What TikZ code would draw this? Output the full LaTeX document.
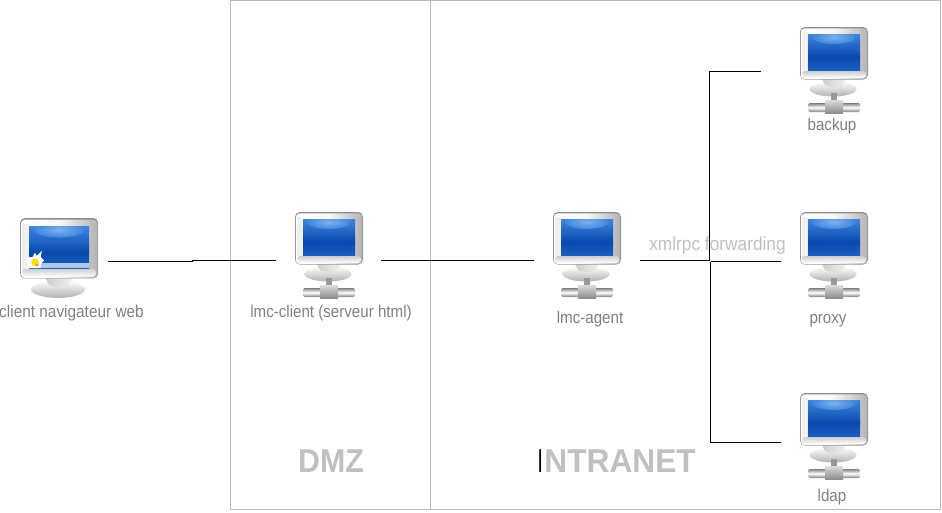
\documentclass[tikz,border=0pt]{standalone}
\usepackage{fontspec}
\setmainfont{Liberation Sans}
\definecolor{frameg}{HTML}{BBB7BB}
\definecolor{labelg}{HTML}{808080}
\definecolor{zoneg}{HTML}{C0C0C0}
\definecolor{scrtop}{HTML}{3C86DE}
\definecolor{scrmid}{HTML}{0A49AE}
\definecolor{scrlow}{HTML}{1A60C4}
\newcommand{\sx}[2]{\scalebox{#1}[1]{#2}}
\tikzset{
  x=1pt,y=-1pt,
  zone/.style={draw=frameg,line width=1pt},
  wire/.style={draw=black,line width=1pt},
  lbl/.style={inner sep=0pt,anchor=base,text=labelg,font=\fontsize{17}{19}\selectfont},
  zonetxt/.style={inner sep=0pt,text=zoneg,font=\fontsize{33}{36}\bfseries\selectfont},
  anchorbox/.style={inner sep=0pt,minimum width=68pt,minimum height=86pt},
  pics/monitor/.style={code={
    % stand
    \shade[top color=white,bottom color=white!70!black] (33,62) ellipse (23.5 and 7.5);
    \shade[left color=white!80!black,right color=white!95!black] (21,50) -- (47,50) -- (43,58) .. controls (38,60.5) and (30,60.5) .. (25,58) -- cycle;
    % body
    \fill[white!55!black,rounded corners=5pt] (0,0) rectangle (68,52.5);
    \shade[left color=white,right color=white!70!black,middle color=white!97!black,rounded corners=4pt] (0.8,1.4) rectangle (67.4,52);
    \shade[top color=white!80!black,bottom color=white,rounded corners=3pt] (2,44) rectangle (66,51);
    \fill[white!94!black] (2,5) rectangle (8,44);
    % screen
    \begin{scope}
      \clip (8,7) rectangle (60,43.5);
      \shade[top color=scrtop,bottom color=scrmid] (8,7) rectangle (60,30);
      \shade[top color=scrmid,bottom color=scrlow] (8,30) rectangle (60,43.5);
      \shade[inner color=scrtop!65!white,outer color=scrtop] (34,10) ellipse (22 and 7);
      \fill[scrmid,opacity=.35] (4,25) .. controls (20,33) and (48,33) .. (64,25) -- (64,33) -- (4,33) -- cycle;
    \end{scope}
  }},
  pics/network/.style={code={
    \fill[white!60!black] (31,66) rectangle (37,75);
    \shade[top color=white!50!black,bottom color=white!50!black,middle color=white,rounded corners=1.5pt] (8,76) rectangle (60,85);
    \shade[top color=white!85!black,bottom color=white!55!black] (25,73.5) rectangle (43,86);
  }},
  pics/spark/.style={code={
    \fill[scrlow!35!white] (8,39) rectangle (60,43.5);
    \fill[white] (8,34) -- (11,34) -- (13,30) -- (14.5,33) -- (19,28.5) -- (18,34) -- (21,37) -- (18,40) -- (18,43.5) -- (8,43.5) -- (5.5,38) -- cycle;
    \fill[yellow!85!orange] (13,38.5) circle (3.3);
    \fill[orange] (15,41) circle (1.3);
  }},
}
\newcommand{\tower}[3]{% name, x, y
  \node[anchorbox] (#1) at (#2+34,#3+43) {};
  \pic at (#2,#3) {monitor};
  \pic at (#2,#3) {network};
}
\begin{document}
\begin{tikzpicture}
\useasboundingbox (0,0) rectangle (942,512);
\fill[white] (0,0) rectangle (942,512);
% zones
\node[inner sep=0pt] (nw) at (230.5,0.5) {};
\node[inner sep=0pt] (se) at (940.5,509.5) {};
\node[inner sep=0pt] (mt) at (430.5,0.5) {};
\node[inner sep=0pt] (mb) at (430.5,509.5) {};
\draw[zone] (nw.center) rectangle (se.center);
\draw[zone] (mt.center) -- (mb.center);
% computers
\node[inner sep=0pt,minimum width=78pt,minimum height=81pt] (clientpc) at (59,258.5) {};
\pic[transform shape,scale=1.15] at (20,218) {monitor};
\pic[transform shape,scale=1.15] at (20,218) {spark};
\tower{lmcclient}{295}{212}
\tower{lmcagent}{553}{212}
\tower{backup}{800}{27}
\tower{proxy}{800}{212}
\tower{ldap}{800}{393}
% labels
\node[lbl] (t1) at (71.5,317) {\sx{0.905}{client navigateur web}};
\node[lbl] (t2) at (331,317) {\sx{0.89}{lmc-client (serveur html)}};
\node[lbl] (t3) at (590,323) {\sx{0.89}{lmc-agent}};
\node[lbl] (t4) at (832,130.5) {\sx{0.89}{backup}};
\node[lbl] (t5) at (828,323) {\sx{0.89}{proxy}};
\node[lbl] (t6) at (832,501) {\sx{0.89}{ldap}};
\node[lbl,text=zoneg,font=\fontsize{19}{21}\selectfont] (t7) at (717.5,250) {\sx{0.91}{xmlrpc forwarding}};
\node[zonetxt,anchor=base] (z1) at (331,472) {\sx{0.92}{DMZ}};
\node[zonetxt,anchor=base west] (z2) at (538.5,472.5) {\sx{0.96}{\textcolor{black}{\mdseries\fontsize{33}{36}\selectfont\kern-1pt\sx{0.6}{I}}\kern1.5ptNTRANET}};
% wires
\coordinate (c1) at (108,261);
\coordinate (c1m) at (192,261);
\coordinate (c2m) at (192,260);
\coordinate (c2) at (276,260);
\coordinate (d1) at (381,260.5);
\coordinate (d2) at (534,260.5);
\coordinate (e1) at (640,260.5);
\coordinate (e2) at (709.5,260.5);
\coordinate (f0) at (710.5,261.5);
\coordinate (fb) at (761,71);
\coordinate (fbc) at (709.5,71);
\coordinate (fp) at (781,261.5);
\coordinate (fl) at (781,442);
\coordinate (flc) at (710.5,442);
\draw[wire] (c1) -- (c1m) -- (c2m) -- (c2);
\draw[wire] (d1) -- (d2);
\draw[wire] (e1) -- (e2);
\draw[wire] (fb) -- (fbc) -- (e2);
\draw[wire] (f0) -- (fp);
\draw[wire] (f0) -- (flc) -- (fl);
\end{tikzpicture}
\end{document}
